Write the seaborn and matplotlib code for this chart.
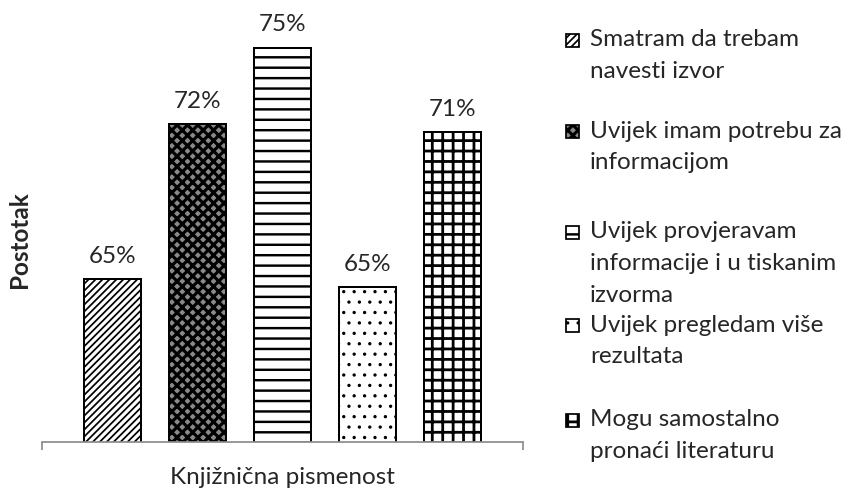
import matplotlib
matplotlib.use("Agg")
import matplotlib.pyplot as plt
from matplotlib.patches import Rectangle
import pandas as pd
import seaborn as sns

# values (bar heights) and the printed labels
group = "Knjižnična pismenost"
series = [
    "Smatram da trebam\nnavesti izvor",
    "Uvijek imam potrebu za\ninformacijom",
    "Uvijek provjeravam\ninformacije i u tiskanim\nizvorma",
    "Uvijek pregledam više\nrezultata",
    "Mogu samostalno\npronaći literaturu",
]
heights = [66.2, 72.1, 75.0, 65.9, 71.8]
value_labels = ["65%", "72%", "75%", "65%", "71%"]

hatches = ["//////", "xxxx", "--", "..", "++"]
faces = ["white", "#8a8a8a", "white", "white", "white"]
hatch_lw = [1.0, 1.8, 1.4, 0.7, 1.6]

df = pd.DataFrame({"grupa": [group] * len(series),
                   "odgovor": series,
                   "postotak": heights})

sns.set_style("white")
plt.rcParams["font.family"] = ["Lato", "DejaVu Sans"]
plt.rcParams["hatch.linewidth"] = 1.4

W, H = 848, 490
FS = 14
fig = plt.figure(figsize=(W / 125, H / 125), dpi=125)
px_per = 26.27
ymin, ymax = 60, 76
ax = fig.add_axes([42 / W, (H - 442) / H, 481 / W, (ymax - ymin) * px_per / H])

sns.barplot(data=df, x="grupa", y="postotak", hue="odgovor", hue_order=series,
            palette=["white"] * len(series), saturation=1, width=0.8, gap=0.33,
            dodge=True, legend=False, edgecolor="black", linewidth=1.15, ax=ax)

for patch, h, fc, lw in zip(ax.patches, hatches, faces, hatch_lw):
    patch.set_hatch(h)
    patch.set_facecolor(fc)
    if hasattr(patch, "set_hatch_linewidth"):
        patch.set_hatch_linewidth(lw)

ax.set_ylim(ymin, ymax)
ax.set_xlim(-0.453, 0.453)

for patch, txt in zip(ax.patches, value_labels):
    cx = patch.get_x() + patch.get_width() / 2
    ax.annotate(txt, (cx, patch.get_height()), xytext=(0, 9.5),
                textcoords="offset points", ha="center", va="baseline",
                fontsize=FS, annotation_clip=False)

sns.despine(ax=ax, left=True, top=True, right=True)
ax.spines["bottom"].set_color("#8c8c8c")
ax.spines["bottom"].set_linewidth(1.0)
ax.set_yticks([])
ax.set_xticks([-0.4529, 0.4529], labels=["", ""])
ax.tick_params(axis="x", bottom=True, length=4.5, color="#8c8c8c", width=1.0)
ax.set_xlabel("")
ax.set_ylabel("")

fig.text(282.5 / W, 1 - 484 / H, group, ha="center", va="baseline", fontsize=FS)
fig.text(20 / W, 1 - 240 / H, "Postotak", rotation=90, ha="center", va="center",
         fontsize=FS, fontweight="bold")

# legend drawn by hand to follow the reference spacing
first_line = [40, 131, 232, 325, 420]
line_gap = 31.5
for name, y0, h, fc, lw in zip(series, first_line, hatches, faces, hatch_lw):
    box = Rectangle((566 / W, 1 - (y0 + 7) / H), 13 / W, 13 / H,
                    transform=fig.transFigure, facecolor=fc,
                    edgecolor="black", hatch=h, linewidth=1.0)
    if hasattr(box, "set_hatch_linewidth"):
        box.set_hatch_linewidth(lw)
    fig.patches.append(box)
    for i, line in enumerate(name.split("\n")):
        fig.text(590 / W, 1 - (y0 + i * line_gap) / H, line, ha="left",
                 va="center", fontsize=FS)

fig.savefig("out.png", dpi=125)
